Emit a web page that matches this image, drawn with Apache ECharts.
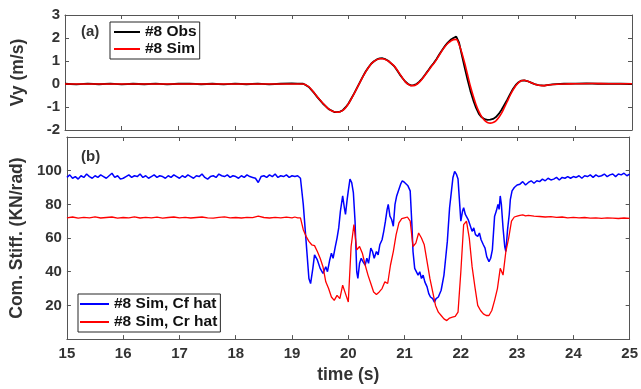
<!DOCTYPE html>
<html>
<head>
<meta charset="utf-8">
<script src="https://cdn.jsdelivr.net/npm/echarts@6/dist/echarts.min.js"></script>
<style>html,body{margin:0;padding:0;background:#fff}#c{width:641px;height:389px}</style>
</head>
<body>
<div id="c"></div>
<script>
// ---- data (time s, value) ----
const xTicks = [15,16,17,18,19,20,21,22,23,24,25];
const vyTicks = [-2,-1,0,1,2,3];
const stiffTicks = [20,40,60,80,100];
const seriesNames = ['#8 Obs','#8 Sim','#8 Sim, Cf hat','#8 Sim, Cr hat'];

const vyObs = [[15,0.01],[15.2,-0.02],[15.4,0.02],[15.6,-0.01],[15.8,0.02],[16,-0.02],[16.2,0.01],[16.4,-0.01],[16.6,0.02],[16.8,-0.02],[17,0.01],[17.2,0.02],[17.4,-0.01],[17.6,0.01],[17.8,-0.02],[18,0.02],[18.2,-0.01],[18.4,0.02],[18.6,-0.02],[18.8,0.01],[19,0.03],[19.1,0.02],[19.2,0.01],[19.25,-0.05],[19.3,-0.13],[19.35,-0.27],[19.4,-0.41],[19.45,-0.57],[19.5,-0.71],[19.55,-0.86],[19.6,-0.97],[19.65,-1.09],[19.7,-1.15],[19.75,-1.22],[19.8,-1.22],[19.85,-1.2],[19.9,-1.14],[19.95,-1.01],[20,-0.85],[20.05,-0.63],[20.1,-0.41],[20.15,-0.17],[20.2,0.07],[20.25,0.31],[20.3,0.53],[20.35,0.72],[20.4,0.88],[20.45,0.99],[20.5,1.07],[20.55,1.11],[20.6,1.12],[20.65,1.08],[20.7,1.01],[20.75,0.9],[20.8,0.79],[20.85,0.62],[20.9,0.43],[20.95,0.26],[21,0.11],[21.05,0.0],[21.1,-0.06],[21.15,-0.05],[21.2,0.0],[21.25,0.1],[21.3,0.24],[21.35,0.4],[21.4,0.57],[21.45,0.75],[21.5,0.9],[21.55,1.08],[21.6,1.28],[21.65,1.47],[21.7,1.65],[21.75,1.8],[21.8,1.92],[21.85,2.0],[21.9,2.06],[21.95,1.8],[22,1.25],[22.05,0.7],[22.1,0.18],[22.15,-0.3],[22.2,-0.7],[22.25,-1.04],[22.3,-1.3],[22.35,-1.45],[22.4,-1.53],[22.45,-1.56],[22.5,-1.55],[22.55,-1.52],[22.6,-1.44],[22.65,-1.3],[22.7,-1.12],[22.75,-0.9],[22.8,-0.68],[22.85,-0.44],[22.9,-0.22],[22.95,-0.04],[23,0.08],[23.05,0.15],[23.1,0.16],[23.15,0.13],[23.2,0.08],[23.25,0.03],[23.3,-0.02],[23.35,-0.05],[23.4,-0.06],[23.45,-0.07],[23.5,-0.05],[23.6,-0.02],[23.8,0.01],[24,0.02],[24.2,0.03],[24.4,0.01],[24.6,0.02],[24.8,0.01],[25,0.0]];

const vySim = [[15,0],[16,0],[17,0],[18,0],[19,0],[19.2,0],[19.25,-0.04],[19.3,-0.12],[19.35,-0.25],[19.4,-0.4],[19.45,-0.55],[19.5,-0.7],[19.55,-0.84],[19.6,-0.97],[19.65,-1.08],[19.7,-1.16],[19.75,-1.21],[19.8,-1.23],[19.85,-1.21],[19.9,-1.15],[19.95,-1.03],[20,-0.86],[20.05,-0.65],[20.1,-0.42],[20.15,-0.18],[20.2,0.06],[20.25,0.3],[20.3,0.52],[20.35,0.71],[20.4,0.87],[20.45,0.98],[20.5,1.06],[20.55,1.1],[20.6,1.1],[20.65,1.07],[20.7,1.0],[20.75,0.91],[20.8,0.8],[20.85,0.64],[20.9,0.45],[20.95,0.27],[21,0.1],[21.05,-0.01],[21.1,-0.07],[21.15,-0.07],[21.2,-0.02],[21.25,0.08],[21.3,0.22],[21.35,0.38],[21.4,0.55],[21.45,0.72],[21.5,0.88],[21.55,1.05],[21.6,1.25],[21.65,1.45],[21.7,1.62],[21.75,1.76],[21.8,1.86],[21.85,1.93],[21.9,1.94],[21.95,1.72],[22,1.35],[22.05,0.9],[22.1,0.4],[22.15,-0.1],[22.2,-0.52],[22.25,-0.9],[22.3,-1.2],[22.35,-1.43],[22.4,-1.58],[22.45,-1.67],[22.5,-1.7],[22.55,-1.67],[22.6,-1.6],[22.65,-1.46],[22.7,-1.27],[22.75,-1.02],[22.8,-0.76],[22.85,-0.5],[22.9,-0.27],[22.95,-0.08],[23,0.06],[23.05,0.14],[23.1,0.16],[23.15,0.13],[23.2,0.08],[23.25,0.03],[23.3,-0.02],[23.35,-0.05],[23.4,-0.07],[23.45,-0.07],[23.5,-0.05],[23.6,-0.02],[23.8,0],[24,0.01],[24.3,0.02],[24.6,0.01],[25,0.01]];

const cfHat = [[15,96],[15.05,97.5],[15.1,95.5],[15.15,96.5],[15.2,95],[15.25,97],[15.3,96],[15.35,98],[15.4,96.5],[15.45,95.5],[15.5,97],[15.55,96],[15.6,97.5],[15.65,96.5],[15.7,95.5],[15.75,97],[15.8,98.5],[15.85,96],[15.9,97],[15.95,95],[16,95.5],[16.05,96.5],[16.1,97.5],[16.15,96],[16.2,97],[16.25,96.5],[16.3,98],[16.35,96],[16.4,97],[16.45,95.5],[16.5,96.5],[16.55,97.5],[16.6,96],[16.65,97],[16.7,96.5],[16.75,95.5],[16.8,97],[16.85,96],[16.9,97.5],[16.95,96.5],[17,95.5],[17.05,97],[17.1,96],[17.15,97.5],[17.2,96.5],[17.25,95.5],[17.3,97],[17.35,96.5],[17.4,98],[17.45,96],[17.5,95],[17.55,96.5],[17.6,97],[17.65,96],[17.7,98],[17.75,97],[17.8,96.5],[17.85,97.5],[17.9,96],[17.95,97],[18,96.5],[18.05,95.5],[18.1,97],[18.15,96],[18.2,97.5],[18.25,96.5],[18.3,96],[18.35,95.5],[18.4,93],[18.45,96.5],[18.5,97],[18.55,96],[18.6,97.5],[18.65,96.5],[18.7,98],[18.75,96],[18.8,97],[18.85,96.5],[18.9,97.5],[18.95,96],[19,97],[19.05,96.5],[19.1,97],[19.15,95.5],
[19.2,80],[19.25,58],[19.3,36],[19.33,33],[19.37,42],[19.4,50],[19.45,47],[19.5,42],[19.55,39],[19.6,43],[19.63,40],[19.67,47],[19.7,51],[19.73,48],[19.77,55],[19.8,60],[19.83,66],[19.86,76],[19.9,85],[19.93,78],[19.95,74],[19.98,83],[20,88],[20.03,95],[20.06,93],[20.09,87],[20.12,70],[20.15,40],[20.17,36],[20.2,45],[20.23,48],[20.26,46],[20.3,44],[20.33,48],[20.36,45],[20.4,54],[20.43,52],[20.46,48],[20.5,52],[20.53,50],[20.56,56],[20.6,59],[20.63,64],[20.66,70],[20.69,77],[20.71,80],[20.74,73],[20.77,71],[20.8,67],[20.83,80],[20.86,85],[20.9,89],[20.93,92],[20.96,94],[21,93],[21.03,94],[21.06,91],[21.1,88],[21.13,68],[21.15,52],[21.18,42],[21.21,41],[21.24,38],[21.27,40],[21.3,36],[21.33,38],[21.36,34],[21.4,31],[21.43,27],[21.46,25],[21.5,24],[21.53,22],[21.56,24],[21.6,25],[21.65,29],[21.7,38],[21.73,48],[21.76,58],[21.8,78],[21.83,87],[21.86,96],[21.89,99.5],[21.92,98],[21.95,95],[21.98,80],[22,70],[22.03,76],[22.05,78],[22.08,74],[22.1,75],[22.13,71],[22.16,68],[22.2,64],[22.23,66],[22.26,62],[22.3,61],[22.33,63],[22.36,59],[22.4,56],[22.43,54],[22.46,49],[22.5,46],[22.53,48],[22.56,53],[22.6,73],[22.63,76],[22.66,80],[22.68,77],[22.7,85],[22.72,80],[22.75,66],[22.78,55],[22.8,52],[22.83,65],[22.86,74],[22.88,83],[22.91,88],[22.95,90],[23,91.5],[23.05,92],[23.1,93.5],[23.15,91.5],[23.2,93],[23.25,94],[23.3,92.5],[23.35,94],[23.4,93.5],[23.45,95],[23.5,94],[23.55,95.5],[23.6,94.5],[23.65,95],[23.7,96],[23.75,94.5],[23.8,96],[23.85,95.5],[23.9,96.5],[23.95,95.5],[24,96.5],[24.05,96],[24.1,97],[24.15,95.5],[24.2,97],[24.25,96.5],[24.3,97.5],[24.35,96],[24.4,97.5],[24.45,96.5],[24.5,97],[24.55,98],[24.6,96.5],[24.65,97.5],[24.7,98],[24.75,96.5],[24.8,98],[24.85,97.5],[24.9,98.5],[24.95,97],[25,98]];

const crHat = [[15,72],[15.1,72.5],[15.2,71.8],[15.3,72.3],[15.4,72],[15.5,72.6],[15.6,71.9],[15.7,72.2],[15.8,72.5],[15.9,71.8],[16,72.2],[16.1,72],[16.2,72.6],[16.3,71.9],[16.4,72.3],[16.5,72],[16.6,72.4],[16.7,71.8],[16.8,72.2],[16.9,72.5],[17,72],[17.1,72.3],[17.2,71.9],[17.3,72.2],[17.4,72.5],[17.5,72],[17.6,71.8],[17.7,72.3],[17.8,72.6],[17.9,72],[18,72.2],[18.1,71.9],[18.2,72.3],[18.3,72.1],[18.4,73],[18.5,72.2],[18.6,71.9],[18.7,72.3],[18.8,72],[18.9,72.4],[19,72],[19.05,72.5],[19.1,72],[19.15,72],
[19.2,65],[19.25,61],[19.3,58],[19.35,56],[19.4,55.5],[19.45,52],[19.5,48],[19.55,43],[19.6,34],[19.65,30],[19.7,25],[19.75,23],[19.8,26],[19.85,24],[19.9,32],[19.95,27],[20,22],[20.05,55],[20.1,68],[20.15,53],[20.2,55],[20.25,51],[20.3,44],[20.35,38],[20.4,33],[20.45,28],[20.5,26.5],[20.55,28],[20.6,30],[20.65,34],[20.7,33],[20.75,44],[20.8,52],[20.85,62],[20.9,69],[20.95,71.5],[21,72],[21.05,72.5],[21.1,70],[21.15,55],[21.2,57],[21.25,63],[21.3,60],[21.35,56],[21.4,46],[21.45,36],[21.5,28],[21.55,20],[21.6,16],[21.65,14],[21.7,12],[21.75,11],[21.8,12.5],[21.85,13],[21.9,13.5],[21.95,16],[22,40],[22.05,68],[22.1,70],[22.15,60],[22.2,43],[22.25,31],[22.3,20],[22.35,17],[22.4,15],[22.45,14],[22.5,14],[22.55,17],[22.6,23],[22.65,30],[22.7,42],[22.75,38],[22.8,52],[22.85,60],[22.9,70],[22.95,72.5],[23,73],[23.05,73.5],[23.1,73.8],[23.15,73.2],[23.2,73.5],[23.3,73],[23.4,72.8],[23.5,72.5],[23.6,72.7],[23.7,72.3],[23.8,72.5],[23.9,72],[24,72.3],[24.1,72],[24.2,72.2],[24.3,71.8],[24.4,72],[24.5,71.7],[24.6,72],[24.7,71.8],[24.8,71.6],[24.9,71.9],[25,71.7]];

// ---- chart ----
const FONT = "Arial, 'Liberation Sans', Helvetica, sans-serif";
const TXT = '#333';
const LINE = '#555';
const chart = echarts.init(document.getElementById('c'), null, {renderer:'canvas'});

function xAx(grid, pos, labels, name){
  return {type:'value', gridIndex:grid, position:pos, min:xTicks[0], max:xTicks[xTicks.length-1], interval:1,
    axisLine:{show:true, onZero:false, lineStyle:{color:LINE, width:1}},
    axisTick:{show:true, inside:true, length:4, lineStyle:{color:LINE}},
    splitLine:{show:false},
    axisLabel:{show:labels, margin:7, color:TXT, fontFamily:FONT, fontWeight:'bold', fontSize:15},
    name: name || '', nameLocation:'middle', nameGap:25,
    nameTextStyle:{color:TXT, fontFamily:FONT, fontWeight:'bold', fontSize:17.5}};
}
function yAx(grid, pos, min, max, interval, labels, name, fmt){
  return {type:'value', gridIndex:grid, position:pos, min:min, max:max, interval:interval,
    axisLine:{show:true, onZero:false, lineStyle:{color:LINE, width:1}},
    axisTick:{show:true, inside:true, length:4, lineStyle:{color:LINE}},
    splitLine:{show:false},
    axisLabel:{show:labels, margin:5, color:TXT, fontFamily:FONT, fontWeight:'bold', fontSize:15, formatter:fmt},
    name: name || '', nameLocation:'middle', nameGap:38,
    nameTextStyle:{color:TXT, fontFamily:FONT, fontWeight:'bold', fontSize:17.5}};
}
const stiffFmt = v => (stiffTicks.indexOf(v) >= 0 ? String(v) : '');

const option = {
  animation:false,
  backgroundColor:'#fff',
  grid:[
    {left:65, right:9, top:15, height:115},
    {left:65, right:9, top:137, height:206}
  ],
  xAxis:[
    xAx(0,'bottom',false),
    xAx(1,'bottom',true,'time (s)'),
    xAx(0,'top',false),
    xAx(1,'top',false)
  ],
  yAxis:[
    yAx(0,'left',vyTicks[0],vyTicks[vyTicks.length-1],1,true,'Vy (m/s)'),
    yAx(1,'left',0,120,20,true,'Com. Stiff. (KN/rad)',stiffFmt),
    yAx(0,'right',vyTicks[0],vyTicks[vyTicks.length-1],1,false),
    yAx(1,'right',0,120,20,false)
  ],
  legend:[
    {data:[seriesNames[0],seriesNames[1]], orient:'vertical', left:110, top:22,
     icon:'rect', itemWidth:26, itemHeight:2, itemGap:1, padding:[2,3,2,4],
     borderColor:'#262626', borderWidth:1, backgroundColor:'#fff',
     textStyle:{color:'#111', fontFamily:FONT, fontWeight:'bold', fontSize:15.5, lineHeight:16}},
    {data:[seriesNames[2],seriesNames[3]], orient:'vertical', left:78, top:294,
     icon:'rect', itemWidth:29, itemHeight:2, itemGap:2, padding:[2,3,2,2],
     borderColor:'#262626', borderWidth:1, backgroundColor:'#fff',
     textStyle:{color:'#111', fontFamily:FONT, fontWeight:'bold', fontSize:15.5, lineHeight:16}}
  ],
  graphic:[
    {type:'text', left:81, top:24, style:{text:'(a)', fill:TXT, font:"bold 15px "+FONT}},
    {type:'text', left:81, top:149, style:{text:'(b)', fill:TXT, font:"bold 15px "+FONT}}
  ],
  series:[
    {name:seriesNames[0], type:'line', xAxisIndex:0, yAxisIndex:0, data:vyObs, symbol:'none', lineStyle:{color:'#000', width:1.8}, itemStyle:{color:'#000'}},
    {name:seriesNames[1], type:'line', xAxisIndex:0, yAxisIndex:0, data:vySim, symbol:'none', smooth:0.3, lineStyle:{color:'#ff0000', width:1.6}, itemStyle:{color:'#ff0000'}},
    {name:seriesNames[2], type:'line', xAxisIndex:1, yAxisIndex:1, data:cfHat, symbol:'none', lineStyle:{color:'#0000ff', width:1.5}, itemStyle:{color:'#0000ff'}},
    {name:seriesNames[3], type:'line', xAxisIndex:1, yAxisIndex:1, data:crHat, symbol:'none', lineStyle:{color:'#ff0000', width:1.3}, itemStyle:{color:'#ff0000'}}
  ]
};
chart.setOption(option);
</script>
</body>
</html>
